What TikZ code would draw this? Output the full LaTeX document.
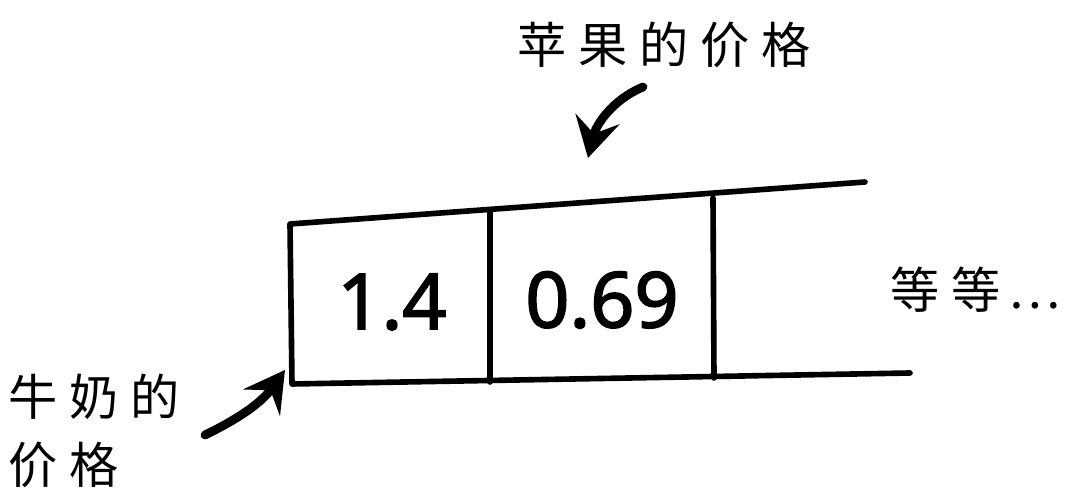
\documentclass[tikz,border=0pt]{standalone}
\usepackage{fontspec}
\usetikzlibrary{arrows.meta}
\newfontfamily\cjk{Noto Sans CJK SC}[LetterSpace=24]
\newfontfamily\numfont{Noto Sans}[FakeBold=2]

\begin{document}
\begin{tikzpicture}[
    x=0.02cm, y=-0.02cm,
    frame/.style={line width=3.2pt, line cap=round, line join=round},
    pointer/.style={line width=5pt, line cap=round,
      -{Stealth[length=8mm, width=9mm, inset=3mm]}},
    num/.style={font=\numfont\fontsize{44}{50}\selectfont},
    label/.style={font=\cjk\fontsize{28}{36}\selectfont, inner sep=0pt}
  ]
    \useasboundingbox (0,0) rectangle (1075,492);

    % array frame
    \coordinate (topleft) at (290,224);
    \coordinate (topright) at (865,182);
    \coordinate (botleft) at (292,384);
    \coordinate (botright) at (910,373);
    \coordinate (sepatop) at (490,211);
    \coordinate (sepabot) at (490,382);
    \coordinate (sepbtop) at (713,198);
    \coordinate (sepbbot) at (714,378);
    \draw[frame] (topright) -- (topleft) -- (botleft) -- (botright);
    \draw[frame] (sepatop) -- (sepabot);
    \draw[frame] (sepbtop) -- (sepbbot);

    % cell values
    \node[num] (milkprice) at (392,302) {1.4};
    \node[num] (appleprice) at (602,300) {0.69};

    % labels
    \node[label] (applelabel) at (664,45) {苹果的价格};
    \node[label, anchor=west] (milklabel) at (8,397) {牛奶的};
    \node[label, anchor=west] (milklabelb) at (8,465) {价格};
    \node[label, anchor=west] (etclabel) at (890,290) {等等\,…};

    % pointers
    \coordinate (appletail) at (643,87);
    \coordinate (appletip) at (588,158);
    \coordinate (milktail) at (205,435);
    \coordinate (milktip) at (285,370);
    \draw[pointer] (appletail) .. controls (612,100) and (596,125) .. (appletip);
    \draw[pointer] (milktail) .. controls (240,418) and (262,402) .. (milktip);
\end{tikzpicture}
\end{document}
